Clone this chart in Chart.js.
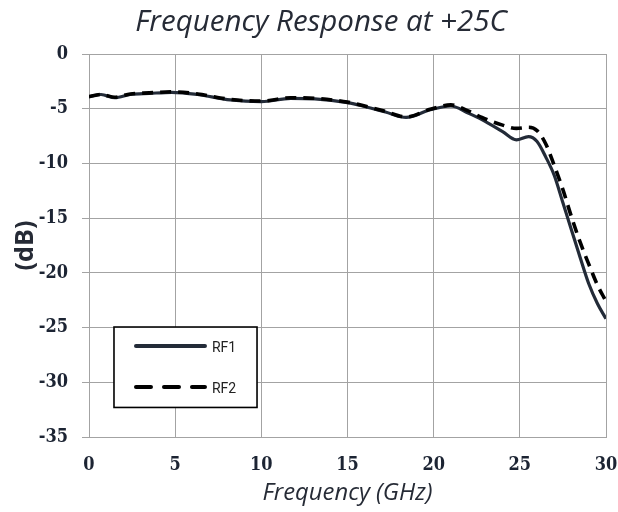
<!DOCTYPE html>
<html>
<head>
<meta charset="utf-8">
<script src="https://cdn.jsdelivr.net/npm/chart.js@4.4.1/dist/chart.umd.min.js"></script>
<style>
  html, body { margin: 0; padding: 0; background: #fff; }
  #wrap { width: 618px; height: 512px; position: relative; }
</style>
</head>
<body>
<div id="wrap"><canvas id="c" width="618" height="512"></canvas></div>
<script>
// ---- data ----
const chartTitle = 'Frequency Response at +25C';
const xTitle = 'Frequency (GHz)';
const yTitle = '(dB)';
const seriesNames = ['RF1', 'RF2'];

const freqGHz = [0, 0.7, 1.5, 2.4, 3.5, 4.8, 6.3, 8.2, 10, 11.7, 13.1, 15, 16, 17.2, 18.4, 19.8, 21, 22, 22.8, 24, 24.8, 25.5, 26, 26.5, 27, 27.5, 28, 28.5, 29, 29.5, 30];
const rf1 = [-3.9, -3.7, -4.0, -3.7, -3.6, -3.5, -3.7, -4.2, -4.35, -4.05, -4.1, -4.45, -4.8, -5.3, -5.8, -5.1, -4.75, -5.4, -6.0, -7.1, -7.85, -7.55, -8.0, -9.4, -11.1, -13.6, -16.1, -18.6, -21.0, -22.8, -24.2];
const rf2 = [-3.9, -3.7, -3.95, -3.65, -3.55, -3.45, -3.65, -4.15, -4.3, -4.0, -4.05, -4.4, -4.75, -5.25, -5.75, -5.05, -4.65, -5.2, -5.8, -6.5, -6.8, -6.7, -7.0, -8.2, -10.2, -12.4, -14.9, -17.2, -19.2, -21.1, -22.6];

const xTicks = [0, 5, 10, 15, 20, 25, 30];
const yTicks = [0, -5, -10, -15, -20, -25, -30, -35];

// ---- styles ----
const gridColor = '#a3a3a3';
const tickColor = '#1c2433';
const textColor = '#262b36';
const rf1Color = '#232b38';
const rf2Color = '#000000';
const sansFam = '"Open Sans", Lato, sans-serif';
const tickFont = { family: '"DejaVu Serif Condensed", "DejaVu Serif", "Liberation Serif", serif', size: 18, weight: 'bold' };

// size a font so the text spans a given width
const measCtx = document.createElement('canvas').getContext('2d');
function fitSize(text, prefix, family, width) {
  measCtx.font = prefix + ' 100px ' + family;
  return Math.round(100 * width / measCtx.measureText(text).width * 10) / 10;
}
const titleSize = fitSize(chartTitle, 'italic', sansFam, 372);
const xTitleSize = fitSize(xTitle, 'italic', sansFam, 170);
const yTitleSize = fitSize(yTitle, 'bold', sansFam, 50);

const toPts = (ys) => freqGHz.map((f, i) => ({ x: f, y: ys[i] }));

const titlePlugin = {
  id: 'customTitle',
  afterDraw(chart) {
    const ctx = chart.ctx;
    ctx.save();
    ctx.font = 'italic ' + titleSize + 'px ' + sansFam;
    ctx.fillStyle = textColor;
    ctx.textAlign = 'center';
    ctx.textBaseline = 'middle';
    ctx.fillText(chartTitle, 321, 23);
    ctx.restore();
  }
};

const legendPlugin = {
  id: 'boxLegend',
  afterDatasetsDraw(chart) {
    const ctx = chart.ctx;
    const xs = chart.scales.x, ys = chart.scales.y;
    const left = xs.getPixelForValue(1.45), right = xs.getPixelForValue(9.75);
    const top = ys.getPixelForValue(-24.95), bottom = ys.getPixelForValue(-32.3);
    ctx.save();
    ctx.fillStyle = '#ffffff';
    ctx.fillRect(left, top, right - left, bottom - top);
    ctx.lineWidth = 1.6;
    ctx.strokeStyle = '#000000';
    ctx.strokeRect(left, top, right - left, bottom - top);
    const rows = [
      { name: seriesNames[0], color: rf1Color, dash: [], y: top + 19 },
      { name: seriesNames[1], color: rf2Color, dash: [15, 13], y: top + 60 }
    ];
    rows.forEach(r => {
      ctx.beginPath();
      ctx.setLineDash(r.dash);
      ctx.lineWidth = 4;
      ctx.lineCap = 'round';
      ctx.strokeStyle = r.color;
      ctx.moveTo(left + 22, r.y);
      ctx.lineTo(left + 91, r.y);
      ctx.stroke();
      ctx.setLineDash([]);
      ctx.fillStyle = '#222222';
      ctx.font = '14px Roboto, "Noto Sans", sans-serif';
      ctx.textAlign = 'left';
      ctx.textBaseline = 'middle';
      ctx.fillText(r.name, left + 98, r.y + 2);
    });
    ctx.restore();
  }
};

new Chart(document.getElementById('c'), {
  type: 'line',
  data: {
    datasets: [
      { label: seriesNames[1], data: toPts(rf2), borderColor: rf2Color, borderWidth: 3.6, borderDash: [11, 7], pointRadius: 0, cubicInterpolationMode: 'monotone', fill: false, order: 0 },
      { label: seriesNames[0], data: toPts(rf1), borderColor: rf1Color, borderWidth: 3.2, pointRadius: 0, cubicInterpolationMode: 'monotone', fill: false, order: 1 }
    ]
  },
  options: {
    responsive: false,
    animation: false,
    events: [],
    layout: { padding: { top: 54, right: 12, left: 0, bottom: 0 } },
    plugins: { legend: { display: false }, tooltip: { enabled: false }, title: { display: false } },
    scales: {
      x: {
        type: 'linear', min: 0, max: 30,
        afterBuildTicks: (s) => { s.ticks = xTicks.map(v => ({ value: v })); },
        afterFit: (s) => { s.height = 75; s.paddingLeft = 0; s.paddingRight = 0; },
        ticks: { font: tickFont, color: tickColor, padding: 18, maxRotation: 0 },
        grid: { color: gridColor, lineWidth: 1, drawTicks: false },
        border: { color: gridColor, width: 1 },
        title: { display: true, text: xTitle, color: textColor, font: { family: sansFam, size: xTitleSize, style: 'italic' }, padding: { top: 0, bottom: 5 } }
      },
      y: {
        type: 'linear', min: -35, max: 0,
        afterBuildTicks: (s) => { s.ticks = yTicks.map(v => ({ value: v })); },
        afterFit: (s) => { s.width = 89; s.paddingTop = 0; s.paddingBottom = 0; },
        ticks: { font: tickFont, color: tickColor, padding: 14 },
        grid: { color: gridColor, lineWidth: 1, drawTicks: true, tickLength: 7 },
        border: { color: gridColor, width: 1 },
        title: { display: true, text: yTitle, color: textColor, font: { family: sansFam, size: yTitleSize, weight: 'bold' }, padding: { top: 11, bottom: 0 } }
      }
    }
  },
  plugins: [titlePlugin, legendPlugin]
});
</script>
</body>
</html>
